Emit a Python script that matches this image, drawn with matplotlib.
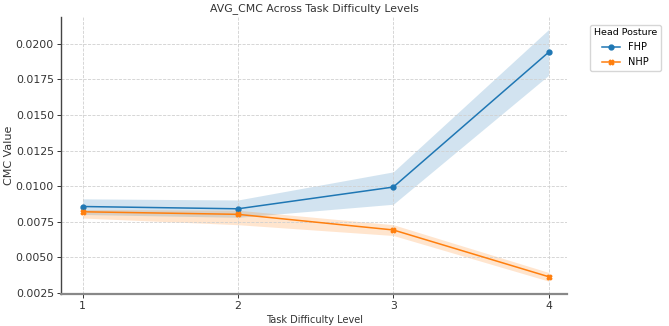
import numpy as np
import matplotlib.pyplot as plt

plt.rcParams['font.family'] = ['DejaVu Sans Condensed', 'DejaVu Sans']

levels = [1, 2, 3, 4]

# mean CMC per posture with 95% CI bounds
fhp_mean = [0.00856, 0.00840, 0.00993, 0.01942]
fhp_low = [0.00800, 0.00780, 0.00872, 0.01780]
fhp_high = [0.00910, 0.00902, 0.01100, 0.02102]

nhp_mean = [0.00819, 0.00801, 0.00691, 0.00362]
nhp_low = [0.00775, 0.00728, 0.00652, 0.00331]
nhp_high = [0.00835, 0.00830, 0.00728, 0.00392]

blue = "#1f77b4"
orange = "#ff7f0e"

fig = plt.figure(figsize=(6.69, 3.26), dpi=100)
ax = fig.add_axes([0.091, 0.098, 0.757, 0.85])

ax.fill_between(levels, fhp_low, fhp_high, color=blue, alpha=0.2, linewidth=0)
ax.plot(levels, fhp_mean, color=blue, marker="o", markersize=3.5, linewidth=1.1, label="FHP")
ax.fill_between(levels, nhp_low, nhp_high, color=orange, alpha=0.2, linewidth=0)
ax.plot(levels, nhp_mean, color=orange, marker="X", markersize=3.5, linewidth=1.1, label="NHP")

ax.set_xlim(0.86, 4.12)
ax.set_ylim(0.0024, 0.0219)
ax.set_xticks(levels)
ax.set_yticks(np.arange(0.0025, 0.0201, 0.0025))
ax.yaxis.set_major_formatter(plt.FormatStrFormatter("%.4f"))
ax.grid(True, linestyle="--", color="#d0d0d0", linewidth=0.6)

for s in ["top", "right"]:
    ax.spines[s].set_visible(False)
ax.spines["left"].set_color("#444444")
ax.spines["left"].set_linewidth(1.0)
ax.spines["bottom"].set_color("#888888")
ax.spines["bottom"].set_linewidth(1.6)
ax.tick_params(colors="#333333", labelsize=7.8, length=3, width=0.7, pad=2)

ax.set_title("AVG_CMC Across Task Difficulty Levels", fontsize=7.8, color="#333333", pad=4)
ax.set_xlabel("Task Difficulty Level", fontsize=7, color="#333333", labelpad=3)
ax.set_ylabel("CMC Value", fontsize=8, color="#333333", labelpad=1)

leg = ax.legend(title="Head Posture", loc="upper left", bbox_to_anchor=(1.035, 0.99),
                fontsize=7, title_fontsize=6.8, handlelength=1.8, borderpad=0.4)

fig.savefig("out.png", dpi=100)
